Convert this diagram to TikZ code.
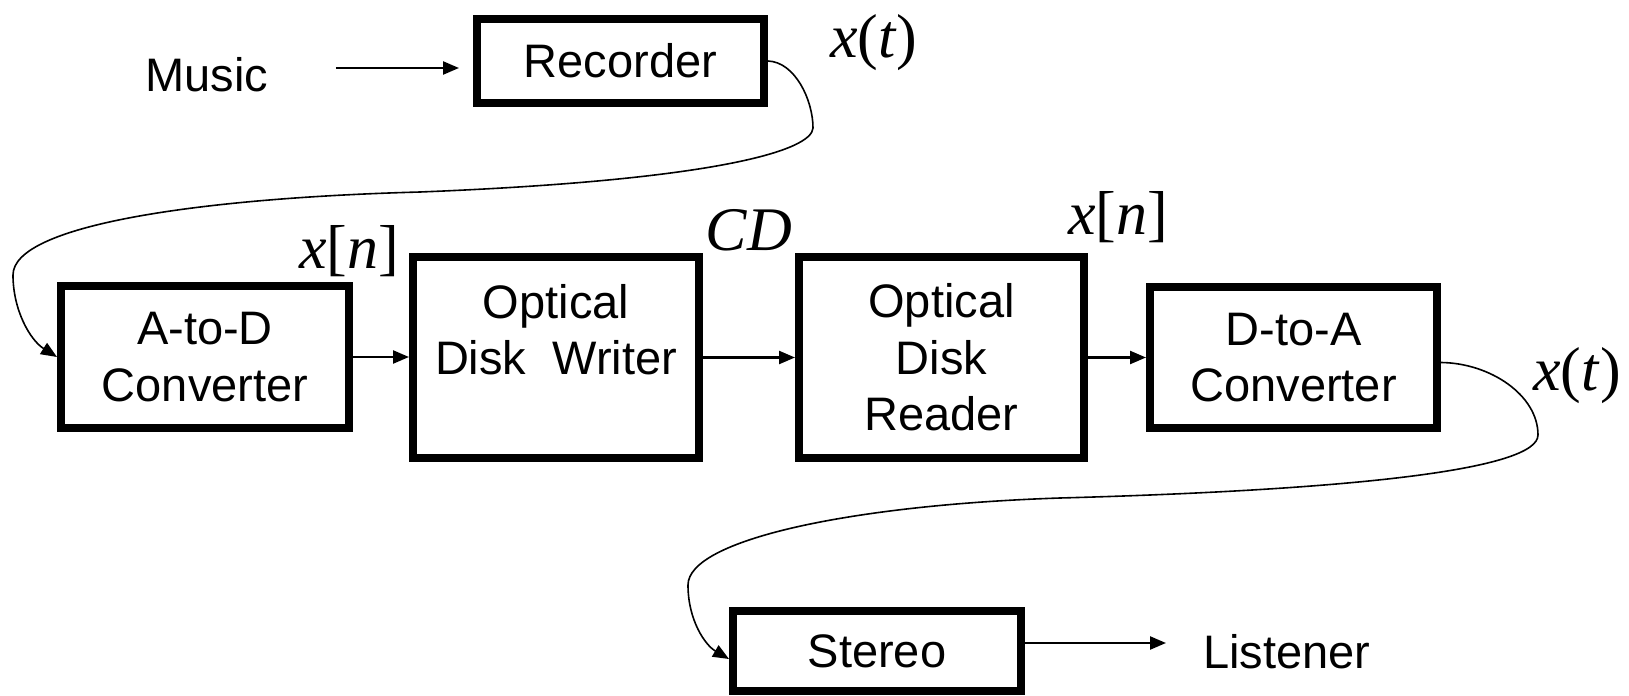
\documentclass[tikz,border=0pt]{standalone}
\usepackage{fontspec}
\setmainfont{Liberation Sans}
\newfontfamily\tmsfont{Liberation Serif}
\usetikzlibrary{arrows.meta,calc}
\newcommand\mv[1]{\textit{#1}}
\begin{document}
\begin{tikzpicture}[x=0.5pt,y=-0.5pt,
  blk/.style={draw, line width=4pt, rectangle, inner sep=0pt, align=center,
    font=\fontsize{23.5}{28.2}\selectfont},
  lbl/.style={inner sep=0pt, font=\fontsize{23.5}{28.2}\selectfont},
  sig/.style={inner sep=0pt, font=\tmsfont\fontsize{31}{37}\selectfont},
  arr/.style={line width=1.2pt, -{Triangle[length=8pt,width=6.5pt]}},
  crv/.style={line width=0.8pt, -{Triangle[length=8pt,width=6.5pt]}}]
\useasboundingbox (0,0) rectangle (1629,696);

% blocks
\node[blk, minimum width=143.5pt, minimum height=42pt] (Rec) at (620.5,61) {Recorder};
\node[blk, minimum width=144pt, minimum height=71pt] (AD) at (205,357) {A-to-D\\Converter};
\node[blk, minimum width=143pt, minimum height=100.5pt] (W) at (556,357.5) {Optical\\Disk\ \ Writer\\\vphantom{R}};
\node[blk, minimum width=142.5pt, minimum height=100.5pt] (R) at (941.5,357.5) {Optical\\Disk\\Reader};
\node[blk, minimum width=143.5pt, minimum height=70.5pt] (DA) at (1293.5,357.5) {D-to-A\\Converter};
\node[blk, minimum width=144pt, minimum height=40pt] (St) at (877,651) {Stereo};

% free texts
\node[lbl] (Music) at (207,75) {Music};
\node[lbl] (L) at (1287,652) {Listener};

% signal labels
\node[sig] (xt1) at (874,43) {\mv{x}(\mv{t})};
\node[sig] (xn1) at (349,251) {\mv{x}[\mv{n}]};
\node[sig] (cd) at (749,230) {\mv{CD}};
\node[sig] (xn2) at (1118,217) {\mv{x}[\mv{n}]};
\node[sig] (xt2) at (1577,376) {\mv{x}(\mv{t})};

% straight connectors
\draw[arr] ($(Music.east)+(67,-7)$) -- ($(Rec.west)+(-14,7)$);
\draw[arr] (AD.east) -- (AD.east -| W.west);
\draw[arr] (W.east) -- (W.east -| R.west);
\draw[arr] (R.east) -- (R.east -| DA.west);
\draw[arr] ($(St.east)+(0,-8)$) -- ($(L.west)+(-37,-9)$);

% curved connectors
\draw[crv] (Rec.east) .. controls (795,62) and (813,100) .. (813,128)
  .. controls (812,150) and (720,180) .. (420,192)
  .. controls (200,198) and (13,225) .. (13,275)
  .. controls (13,310) and (30,340) .. (AD.west);
\draw[crv] ($(DA.east)+(0,5)$) .. controls (1490,363) and (1538,395) .. (1538,435)
  .. controls (1538,470) and (1350,490) .. (1060,498)
  .. controls (850,505) and (688,540) .. (688,585)
  .. controls (688,620) and (705,645) .. ($(St.west)+(0,8)$);
\end{tikzpicture}
\end{document}
